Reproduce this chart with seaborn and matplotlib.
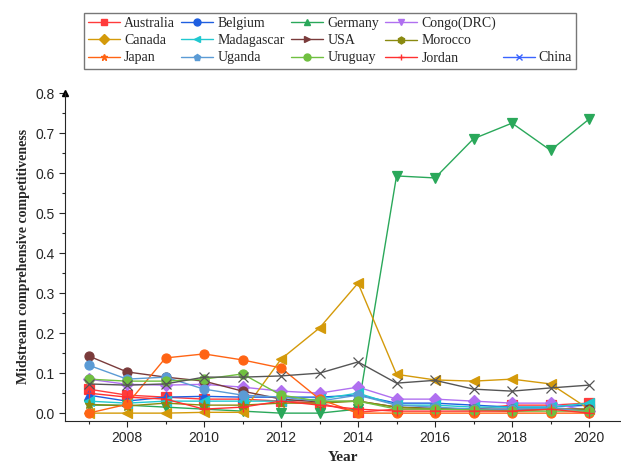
# Midstream comprehensive competitiveness by country, 2007-2020
import numpy as np
import pandas as pd
import seaborn as sns
import matplotlib.pyplot as plt
from matplotlib.lines import Line2D

years = list(range(2007, 2021))

australia  = [0.060, 0.045, 0.040, 0.035, 0.035, 0.030, 0.025, 0.002, 0.010, 0.010, 0.010, 0.020, 0.020, 0.025]
belgium    = [0.045, 0.030, 0.040, 0.042, 0.040, 0.040, 0.040, 0.045, 0.025, 0.025, 0.020, 0.015, 0.015, 0.020]
germany    = [0.020, 0.020, 0.015, 0.010, 0.005, 0.000, 0.000, 0.010, 0.593, 0.588, 0.686, 0.725, 0.657, 0.735]
congo      = [0.085, 0.072, 0.070, 0.072, 0.065, 0.055, 0.050, 0.065, 0.035, 0.035, 0.030, 0.025, 0.025, 0.005]
canada     = [0.000, 0.000, 0.000, 0.002, 0.002, 0.135, 0.213, 0.325, 0.097, 0.083, 0.080, 0.085, 0.073, 0.010]
madagascar = [0.030, 0.025, 0.030, 0.030, 0.030, 0.030, 0.035, 0.050, 0.020, 0.020, 0.015, 0.015, 0.015, 0.025]
usa        = [0.143, 0.103, 0.090, 0.080, 0.055, 0.035, 0.028, 0.030, 0.015, 0.012, 0.010, 0.010, 0.010, 0.010]
morocco    = [0.022, 0.018, 0.025, 0.020, 0.020, 0.025, 0.025, 0.030, 0.015, 0.010, 0.010, 0.005, 0.010, 0.010]
japan      = [0.000, 0.022, 0.138, 0.148, 0.133, 0.113, 0.035, 0.000, 0.000, 0.000, 0.000, 0.000, 0.000, 0.000]
uganda     = [0.120, 0.085, 0.090, 0.060, 0.045, 0.040, 0.030, 0.045, 0.020, 0.015, 0.010, 0.010, 0.012, 0.005]
uruguay    = [0.085, 0.080, 0.080, 0.085, 0.098, 0.045, 0.030, 0.030, 0.010, 0.010, 0.008, 0.005, 0.005, 0.005]
jordan     = [0.050, 0.040, 0.035, 0.010, 0.015, 0.030, 0.020, 0.010, 0.005, 0.005, 0.005, 0.005, 0.010, 0.000]
china      = [0.073, 0.070, 0.073, 0.090, 0.090, 0.093, 0.100, 0.128, 0.075, 0.082, 0.060, 0.055, 0.063, 0.070]

countries = ["Australia", "Belgium", "Germany", "Congo(DRC)", "Canada", "Madagascar", "USA",
             "Morocco", "Japan", "Uganda", "Uruguay", "Jordan", "China"]
values = [australia, belgium, germany, congo, canada, madagascar, usa,
          morocco, japan, uganda, uruguay, jordan, china]

colors = {"Australia": "#ff3b3b", "Belgium": "#1f5fe0", "Germany": "#2aa85a", "Congo(DRC)": "#b070f0",
          "Canada": "#d49a0a", "Madagascar": "#20c8d0", "USA": "#7a3b3b", "Morocco": "#8a8a10",
          "Japan": "#ff6414", "Uganda": "#5b9bd5", "Uruguay": "#70c040", "Jordan": "#ff3030",
          "China": "#555555"}
# markers as they appear on the lines
markers = {"Australia": "s", "Belgium": "^", "Germany": "v", "Congo(DRC)": "D", "Canada": "<",
           "Madagascar": "<", "USA": "o", "Morocco": "*", "Japan": "o", "Uganda": "o",
           "Uruguay": "o", "Jordan": "+", "China": "x"}
# markers as they appear in the legend box
legend_markers = {"Australia": "s", "Belgium": "o", "Germany": "^", "Congo(DRC)": "v", "Canada": "D",
                  "Madagascar": "<", "USA": ">", "Morocco": "h", "Japan": "*", "Uganda": "p",
                  "Uruguay": "o", "Jordan": "+", "China": "x"}
legend_colors = dict(colors, China="#3a64ff")

# long form table for seaborn
df = pd.DataFrame({
    "Year": np.tile(years, len(countries)),
    "Value": np.concatenate(values),
    "Country": np.repeat(countries, len(years)),
})

sns.set_style("ticks")
plt.rcParams["font.family"] = ["Liberation Sans", "DejaVu Sans"]

fig = plt.figure(figsize=(6.21, 4.68), dpi=100)
ax = fig.add_axes([0.1047, 0.101, 0.8953, 0.700])

# one call per country (filled and line-art markers can't be mixed in one call)
for c in countries:
    sub = df[df["Country"] == c]
    sns.lineplot(data=sub, x="Year", y="Value", color=colors[c], marker=markers[c],
                 markersize=6.5, linewidth=1.0, markeredgewidth=0.9,
                 markeredgecolor=colors[c], ax=ax, legend=False)

ax.set_xlim(2006.39, 2020.83)
ax.set_ylim(-0.019, 0.8)
ax.set_xticks(range(2008, 2021, 2))
ax.set_xticks(range(2007, 2021), minor=True)
ax.set_yticks(np.arange(0, 0.81, 0.1))
ax.set_yticks(np.arange(0.05, 0.8, 0.1), minor=True)
ax.set_yticklabels([f"{v:.1f}" for v in np.arange(0, 0.81, 0.1)])
ax.tick_params(axis="both", which="major", length=4, width=0.8, labelsize=10)
ax.tick_params(axis="both", which="minor", length=2.5, width=0.8)
sns.despine(ax=ax)
ax.plot(0, 1, "^k", markersize=5, transform=ax.transAxes, clip_on=False)

serif = ["Liberation Serif", "DejaVu Serif"]
ax.set_xlabel("Year", fontweight="bold", fontsize=11, family=serif)
ax.set_ylabel("Midstream comprehensive competitiveness", fontweight="bold", fontsize=10, family=serif)

# legend: 3 rows x 5 columns, China alone in last column
def handle(c):
    return Line2D([], [], color=legend_colors[c], marker=legend_markers[c], markersize=5, linewidth=1.0)

blank = Line2D([], [], color="none")
order = ["Australia", "Canada", "Japan", "Belgium", "Madagascar", "Uganda",
         "Germany", "USA", "Uruguay", "Congo(DRC)", "Morocco", "Jordan"]
handles = [handle(c) for c in order] + [blank, blank, handle("China")]
labels = order + ["", "", "China"]
fig.legend(handles, labels, ncol=5, loc="upper left", bbox_to_anchor=(0.124, 0.988),
           frameon=True, fancybox=False, edgecolor="#555555", prop={"family": serif, "size": 10},
           handlelength=2.3, columnspacing=0.45, handletextpad=0.3,
           labelspacing=0.3, borderpad=0.3)

plt.savefig("out.png", dpi=100)
